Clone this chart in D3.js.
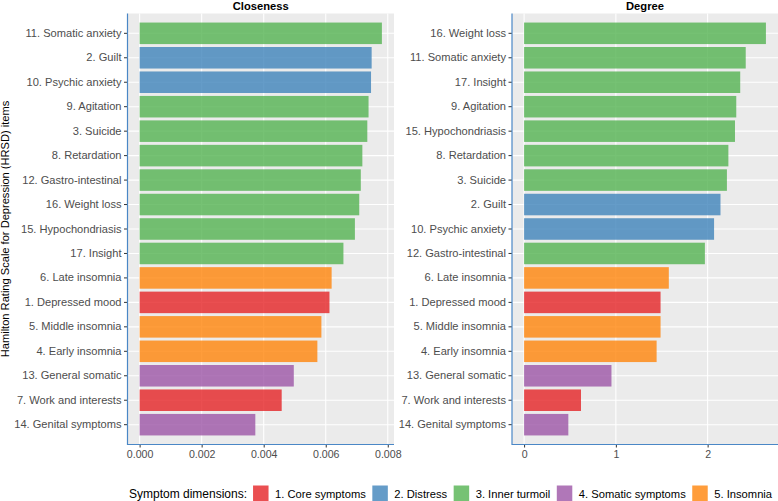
<!DOCTYPE html>
<html>
<head>
<meta charset="utf-8">
<script src="https://cdn.jsdelivr.net/npm/d3@7"></script>
<style>
  html, body { margin: 0; padding: 0; background: #ffffff; }
  svg { display: block; font-family: "Liberation Sans", Arial, Helvetica, sans-serif; }
</style>
</head>
<body>
<svg id="chart" width="778" height="501"></svg>
<script>
// ---- Data ----
const dimensionLabels = ["1. Core symptoms", "2. Distress", "3. Inner turmoil", "4. Somatic symptoms", "5. Insomnia"];
const dimensionColors = ["#E41A1C", "#377EB8", "#4DAF4A", "#984EA3", "#FF7F00"];

const closenessItems = ["11. Somatic anxiety", "2. Guilt", "10. Psychic anxiety", "9. Agitation", "3. Suicide",
  "8. Retardation", "12. Gastro-intestinal", "16. Weight loss", "15. Hypochondriasis", "17. Insight",
  "6. Late insomnia", "1. Depressed mood", "5. Middle insomnia", "4. Early insomnia", "13. General somatic",
  "7. Work and interests", "14. Genital symptoms"];
const closenessValues = [0.00781, 0.00748, 0.00746, 0.00738, 0.00734, 0.00718, 0.00713, 0.00708, 0.00694, 0.00657,
  0.00619, 0.00612, 0.00586, 0.00573, 0.00497, 0.00458, 0.00373];
const closenessDims = [3, 2, 2, 3, 3, 3, 3, 3, 3, 3, 5, 1, 5, 5, 4, 1, 4];

const degreeItems = ["16. Weight loss", "11. Somatic anxiety", "17. Insight", "9. Agitation", "15. Hypochondriasis",
  "8. Retardation", "3. Suicide", "2. Guilt", "10. Psychic anxiety", "12. Gastro-intestinal",
  "6. Late insomnia", "1. Depressed mood", "5. Middle insomnia", "4. Early insomnia", "13. General somatic",
  "7. Work and interests", "14. Genital symptoms"];
const degreeValues = [2.635, 2.415, 2.355, 2.312, 2.298, 2.226, 2.21, 2.14, 2.07, 1.97,
  1.577, 1.487, 1.487, 1.444, 0.952, 0.62, 0.482];
const degreeDims = [3, 3, 3, 3, 3, 3, 3, 2, 2, 3, 5, 1, 5, 5, 4, 1, 4];

const closenessTicks = [0, 0.002, 0.004, 0.006, 0.008];
const degreeTicks = [0, 1, 2];

const panelTitles = ["Closeness", "Degree"];
const yAxisTitle = "Hamilton Rating Scale for Depression (HRSD) items";
const legendTitle = "Symptom dimensions:";

// ---- Layout ----
const svg = d3.select("#chart");
const panelTop = 13.5, panelBottom = 444.5;
const panelBg = "#EBEBEB";
const axisBlue = "#4A87C6";
const textGray = "#4D4D4D";
const barOpacity = 0.77;

const color = d3.scaleOrdinal().domain([1, 2, 3, 4, 5]).range(dimensionColors);

const panels = [
  { title: panelTitles[0], items: closenessItems, values: closenessValues, dims: closenessDims,
    ticks: closenessTicks, fmt: d3.format(".3f"), x0: 127.5, x1: 394 },
  { title: panelTitles[1], items: degreeItems, values: degreeValues, dims: degreeDims,
    ticks: degreeTicks, fmt: d3.format("d"), x0: 512, x1: 778 }
];

panels.forEach(p => {
  const max = d3.max(p.values);
  const x = d3.scaleLinear().domain([-0.05 * max, 1.05 * max]).range([p.x0, p.x1]);
  const y = d3.scaleBand().domain(p.items).range([panelTop, panelBottom])
    .paddingInner(0.12).paddingOuter(0.37);

  const g = svg.append("g");
  // background
  g.append("rect").attr("x", p.x0).attr("y", panelTop)
    .attr("width", p.x1 - p.x0).attr("height", panelBottom - panelTop).attr("fill", panelBg);

  // grid lines
  g.selectAll(".vgrid").data(p.ticks).join("line")
    .attr("x1", d => x(d)).attr("x2", d => x(d))
    .attr("y1", panelTop).attr("y2", panelBottom)
    .attr("stroke", "#ffffff").attr("stroke-width", 1.1);
  g.selectAll(".hgrid").data(p.items).join("line")
    .attr("x1", p.x0).attr("x2", p.x1)
    .attr("y1", d => y(d) + y.bandwidth() / 2).attr("y2", d => y(d) + y.bandwidth() / 2)
    .attr("stroke", "#ffffff").attr("stroke-width", 1.1);

  // bars
  g.selectAll(".bar").data(p.items).join("rect")
    .attr("x", x(0))
    .attr("y", d => y(d))
    .attr("width", (d, i) => x(p.values[i]) - x(0))
    .attr("height", y.bandwidth())
    .attr("fill", (d, i) => color(p.dims[i]))
    .attr("fill-opacity", barOpacity);

  // title
  svg.append("text")
    .attr("x", (p.x0 + p.x1) / 2).attr("y", 9.5)
    .attr("text-anchor", "middle")
    .attr("font-size", 11.2).attr("font-weight", "bold").attr("fill", "#000")
    .text(p.title);

  // y axis
  const yAx = svg.append("g").attr("transform", `translate(${p.x0},0)`)
    .call(d3.axisLeft(y).tickSize(3.5).tickSizeOuter(0).tickPadding(2.5));
  yAx.select(".domain").remove();
  yAx.selectAll(".tick line").attr("stroke", "#333333").attr("stroke-width", 1);
  yAx.selectAll(".tick text").attr("font-size", 11.1).attr("fill", textGray)
    .attr("font-family", "'Liberation Sans', Arial, sans-serif");

  // x axis
  const xAx = svg.append("g").attr("transform", `translate(0,${panelBottom})`)
    .call(d3.axisBottom(x).tickValues(p.ticks).tickFormat(p.fmt).tickSize(3).tickSizeOuter(0).tickPadding(3));
  xAx.select(".domain").remove();
  xAx.selectAll(".tick line").attr("stroke", "#333333").attr("stroke-width", 1);
  xAx.selectAll(".tick text").attr("font-size", 10.6).attr("fill", textGray)
    .attr("font-family", "'Liberation Sans', Arial, sans-serif");

  // blue axis lines
  svg.append("line").attr("x1", p.x0).attr("x2", p.x0)
    .attr("y1", panelTop).attr("y2", panelBottom + 0.5)
    .attr("stroke", axisBlue).attr("stroke-width", 1.2);
  svg.append("line").attr("x1", p.x0).attr("x2", p.x1)
    .attr("y1", panelBottom).attr("y2", panelBottom)
    .attr("stroke", axisBlue).attr("stroke-width", 1.2);
});

// y axis title
svg.append("text")
  .attr("transform", `translate(9,${(panelTop + panelBottom) / 2}) rotate(-90)`)
  .attr("text-anchor", "middle")
  .attr("font-size", 11.1).attr("fill", "#000")
  .text(yAxisTitle);

// legend
const legend = svg.append("g");
const legY = 485.5, sw = 15.5, textBase = 497.5;
let cx = 129;
const lt = legend.append("text").attr("x", cx).attr("y", textBase)
  .attr("font-size", 12).attr("fill", "#000").text(legendTitle);
cx += lt.node().getComputedTextLength() + 6;
dimensionLabels.forEach((lab, i) => {
  legend.append("rect").attr("x", cx).attr("y", legY).attr("width", sw).attr("height", sw)
    .attr("fill", color(i + 1)).attr("fill-opacity", barOpacity);
  cx += sw + 6.5;
  const t = legend.append("text").attr("x", cx).attr("y", textBase)
    .attr("font-size", 11.2).attr("fill", "#000").text(lab);
  cx += t.node().getComputedTextLength() + 6.5;
});
</script>
</body>
</html>
